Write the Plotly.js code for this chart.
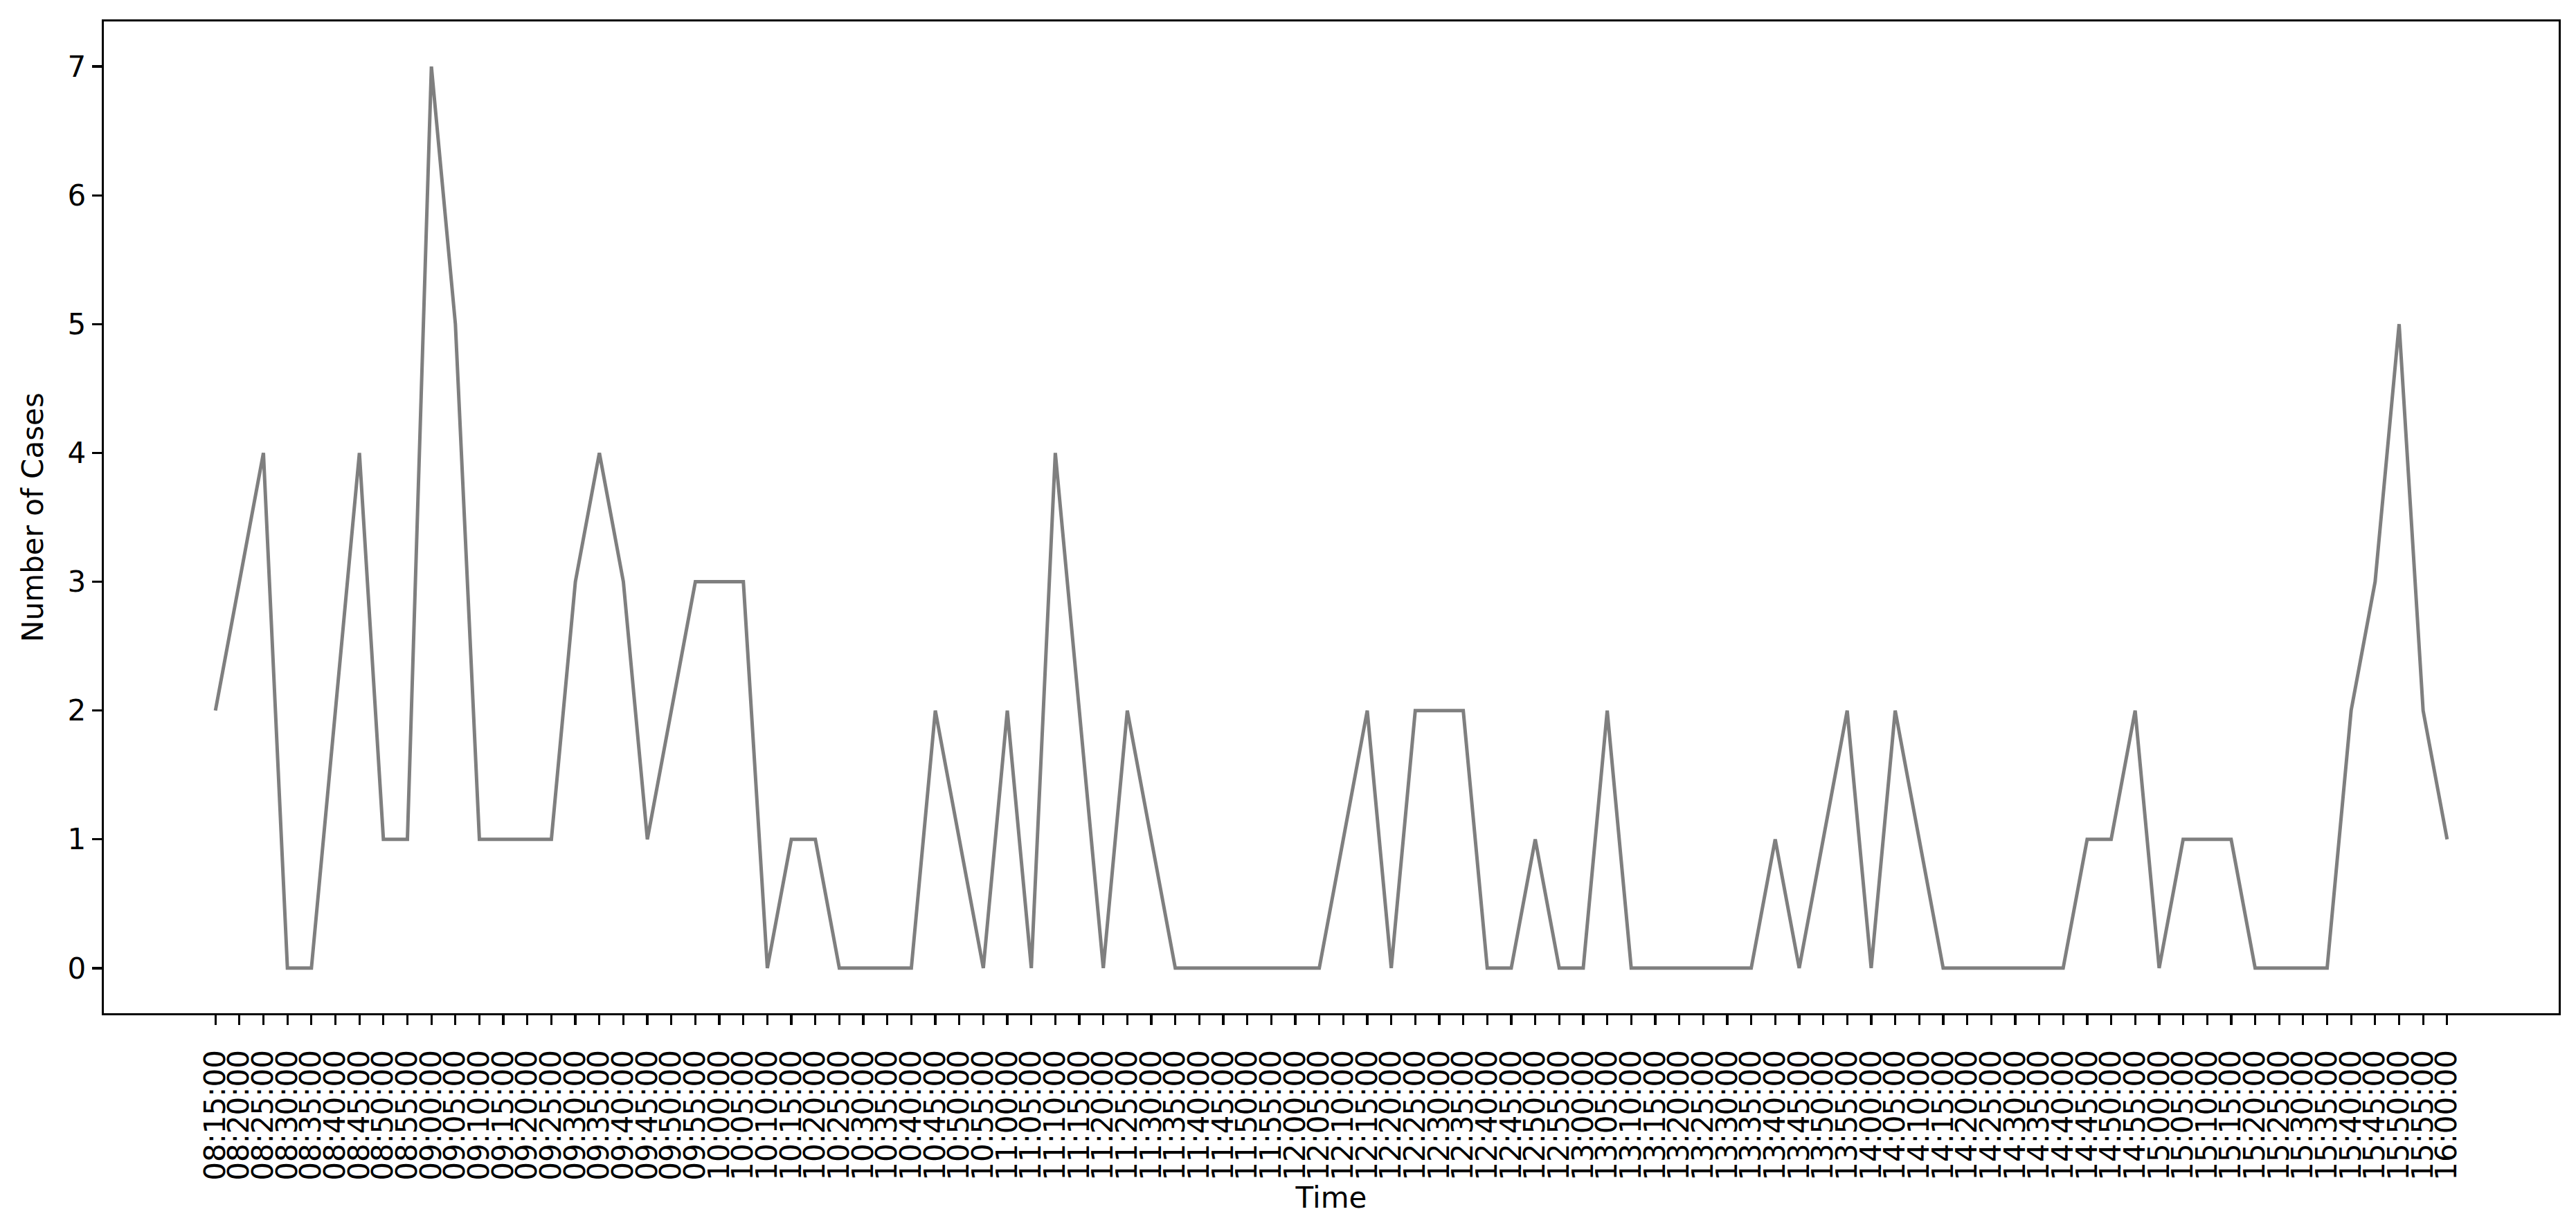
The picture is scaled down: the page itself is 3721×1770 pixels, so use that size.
<!DOCTYPE html>
<html>
<head>
<meta charset="utf-8">
<script src="https://cdn.plot.ly/plotly-3.0.1.min.js"></script>
<style>
html,body{margin:0;padding:0;background:#fff;}
#chart{width:3721px;height:1770px;}
</style>
</head>
<body>
<div id="chart"></div>
<script>
const times = ["08:15:00","08:20:00","08:25:00","08:30:00","08:35:00","08:40:00","08:45:00","08:50:00","08:55:00",
"09:00:00","09:05:00","09:10:00","09:15:00","09:20:00","09:25:00","09:30:00","09:35:00","09:40:00","09:45:00","09:50:00","09:55:00",
"10:00:00","10:05:00","10:10:00","10:15:00","10:20:00","10:25:00","10:30:00","10:35:00","10:40:00","10:45:00","10:50:00","10:55:00",
"11:00:00","11:05:00","11:10:00","11:15:00","11:20:00","11:25:00","11:30:00","11:35:00","11:40:00","11:45:00","11:50:00","11:55:00",
"12:00:00","12:05:00","12:10:00","12:15:00","12:20:00","12:25:00","12:30:00","12:35:00","12:40:00","12:45:00","12:50:00","12:55:00",
"13:00:00","13:05:00","13:10:00","13:15:00","13:20:00","13:25:00","13:30:00","13:35:00","13:40:00","13:45:00","13:50:00","13:55:00",
"14:00:00","14:05:00","14:10:00","14:15:00","14:20:00","14:25:00","14:30:00","14:35:00","14:40:00","14:45:00","14:50:00","14:55:00",
"15:00:00","15:05:00","15:10:00","15:15:00","15:20:00","15:25:00","15:30:00","15:35:00","15:40:00","15:45:00","15:50:00","15:55:00",
"16:00:00"];

const cases = [2,3,4,0,0,2,4,1,1,
7,5,1,1,1,1,3,4,3,1,2,3,
3,3,0,1,1,0,0,0,0,2,1,0,
2,0,4,2,0,2,1,0,0,0,0,0,
0,0,1,2,0,2,2,2,0,0,1,0,
0,2,0,0,0,0,0,0,1,0,1,2,
0,2,1,0,0,0,0,0,0,1,1,2,
0,1,1,1,0,0,0,0,2,3,5,2,
1];

const yTicks = [0,1,2,3,4,5,6,7];

const FONT = "DejaVu Sans, Liberation Sans, sans-serif";
const n = times.length;
const pad = (n - 1) * 0.05;

const trace = {
  x: times,
  y: cases,
  type: "scatter",
  mode: "lines",
  line: {color: "#7f7f7f", width: 5},
  hoverinfo: "x+y"
};

const layout = {
  width: 3721,
  height: 1770,
  paper_bgcolor: "#ffffff",
  plot_bgcolor: "#ffffff",
  margin: {l: 150, r: 25, t: 31, b: 306, pad: 0},
  showlegend: false,
  font: {family: FONT, size: 42, color: "#000000"},
  xaxis: {
    type: "category",
    categoryorder: "array",
    categoryarray: times,
    range: [-pad, n - 1 + pad],
    tickmode: "array",
    tickvals: times,
    ticktext: times,
    tickangle: -90,
    ticks: "outside",
    ticklen: 14,
    tickwidth: 3.3,
    tickcolor: "#000000",
    ticklabelstandoff: 19,
    tickfont: {family: FONT, size: 42, color: "#000000"},
    showline: true,
    linecolor: "#000000",
    linewidth: 3.3,
    mirror: true,
    showgrid: false,
    zeroline: false,
    automargin: false,
    title: {text: "Time", font: {family: FONT, size: 42, color: "#000000"}, standoff: 0}
  },
  yaxis: {
    range: [-0.35, 7.35],
    tickmode: "array",
    tickvals: yTicks,
    ticktext: yTicks.map(String),
    ticks: "outside",
    ticklen: 14,
    tickwidth: 3.3,
    tickcolor: "#000000",
    tickfont: {family: FONT, size: 42, color: "#000000"},
    showline: true,
    linecolor: "#000000",
    linewidth: 3.3,
    mirror: true,
    showgrid: false,
    zeroline: false,
    automargin: false,
    title: {text: "Number of Cases", font: {family: FONT, size: 42, color: "#000000"}, standoff: 23}
  }
};

Plotly.newPlot("chart", [trace], layout, {displayModeBar: false, staticPlot: true});
</script>
</body>
</html>
